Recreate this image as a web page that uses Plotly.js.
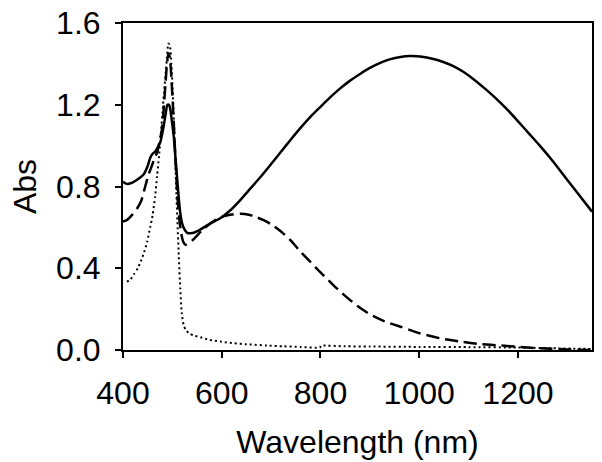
<!DOCTYPE html>
<html>
<head>
<meta charset="utf-8">
<script src="https://cdn.plot.ly/plotly-3.0.1.min.js"></script>
<style>html,body{margin:0;padding:0;background:#fff;}#chart{width:602px;height:462px;}</style>
</head>
<body>
<div id="chart"></div>
<script>
// Solid spectrum
var solidX = [400,405,410,420,430,442,450,455,460,465,470,476,482,486,490,493,496,500,503,506,509,512,516,521,526,531,536,545,557,577,597,618,638,658,678,700,720,740,760,780,800,820,840,860,881,900,921,940,962,982,1002,1029,1050,1070,1090,1110,1135,1158,1178,1198,1222,1246,1272,1300,1325,1350];
var solidY = [0.823,0.815,0.812,0.82,0.835,0.86,0.9,0.94,0.96,0.97,0.99,1.02,1.09,1.15,1.2,1.2,1.175,1.1,1.04,0.95,0.86,0.77,0.67,0.61,0.585,0.572,0.571,0.575,0.59,0.62,0.645,0.685,0.735,0.79,0.845,0.91,0.97,1.03,1.088,1.142,1.19,1.237,1.28,1.318,1.352,1.38,1.405,1.422,1.434,1.438,1.436,1.424,1.408,1.388,1.36,1.325,1.275,1.225,1.177,1.125,1.06,0.995,0.92,0.832,0.755,0.677];
// Dashed spectrum
var dashX = [400,408,418,428,437,445,452,459,464,469,474,479,483,486,489,492,495,498,501,504,507,510,514,518,522,527,532,540,550,562,575,590,605,620,638,655,670,685,700,720,740,760,780,800,825,850,875,900,930,962,1002,1043,1084,1124,1165,1205,1246,1300,1350];
var dashY = [0.628,0.636,0.66,0.69,0.73,0.8,0.86,0.905,0.94,0.965,1.02,1.08,1.2,1.3,1.4,1.452,1.43,1.33,1.2,1.05,0.9,0.76,0.64,0.57,0.53,0.515,0.52,0.535,0.56,0.59,0.615,0.64,0.655,0.663,0.667,0.662,0.65,0.635,0.615,0.58,0.535,0.48,0.43,0.38,0.32,0.265,0.215,0.175,0.14,0.114,0.081,0.057,0.041,0.029,0.022,0.015,0.008,0.003,0.0];
// Dotted spectrum
var dotX = [408,415,422,430,437,443,449,455,460,465,469,473,477,480,483,486,489,492,495,498,501,504,507,510,513,516,519,523,528,535,545,557,575,600,625,650,692,725,760,799,801,850,900,1000,1100,1200,1280,1350];
var dotY = [0.334,0.345,0.37,0.4,0.44,0.48,0.53,0.6,0.66,0.75,0.85,0.95,1.07,1.16,1.26,1.34,1.43,1.5,1.49,1.4,1.25,1.08,0.85,0.64,0.46,0.3,0.18,0.12,0.095,0.08,0.07,0.062,0.05,0.04,0.033,0.028,0.022,0.018,0.015,0.012,0.02,0.018,0.017,0.015,0.014,0.012,0.008,0.005];

var font = "Liberation Sans, Arial, sans-serif";
var traces = [
  {x: solidX, y: solidY, mode: 'lines', line: {color: '#000', width: 2.5, shape: 'spline', smoothing: 0.6}},
  {x: dashX, y: dashY, mode: 'lines', line: {color: '#000', width: 2.5, dash: '13px,6px', shape: 'spline', smoothing: 0.6}},
  {x: dotX, y: dotY, mode: 'lines', line: {color: '#000', width: 2, dash: '2px,3px', shape: 'spline', smoothing: 0.6}}
];
var layout = {
  width: 602, height: 462,
  margin: {l: 123, r: 10, t: 23, b: 112},
  paper_bgcolor: '#fff', plot_bgcolor: '#fff',
  showlegend: false,
  font: {family: font, color: '#000', size: 32},
  xaxis: {
    range: [400, 1350], dtick: 200, tick0: 400,
    showgrid: false, zeroline: false,
    showline: true, mirror: true, linecolor: '#000', linewidth: 2,
    ticks: 'outside', ticklen: 6, tickwidth: 2, tickcolor: '#000',
    ticklabelstandoff: 8,
    tickfont: {family: font, size: 32, color: '#000'},
    title: {text: 'Wavelength (nm)', font: {family: font, size: 32, color: '#000'}, standoff: 20}
  },
  yaxis: {
    range: [0, 1.6], dtick: 0.4, tick0: 0, tickformat: '.1f',
    showgrid: false, zeroline: false,
    showline: true, mirror: true, linecolor: '#000', linewidth: 2,
    ticks: 'outside', ticklen: 6, tickwidth: 2, tickcolor: '#000',
    ticklabelstandoff: 8,
    tickfont: {family: font, size: 32, color: '#000'},
    title: {text: 'Abs', font: {family: font, size: 32, color: '#000'}, standoff: 10}
  }
};
Plotly.newPlot('chart', traces, layout, {staticPlot: true, displayModeBar: false});
</script>
</body>
</html>
